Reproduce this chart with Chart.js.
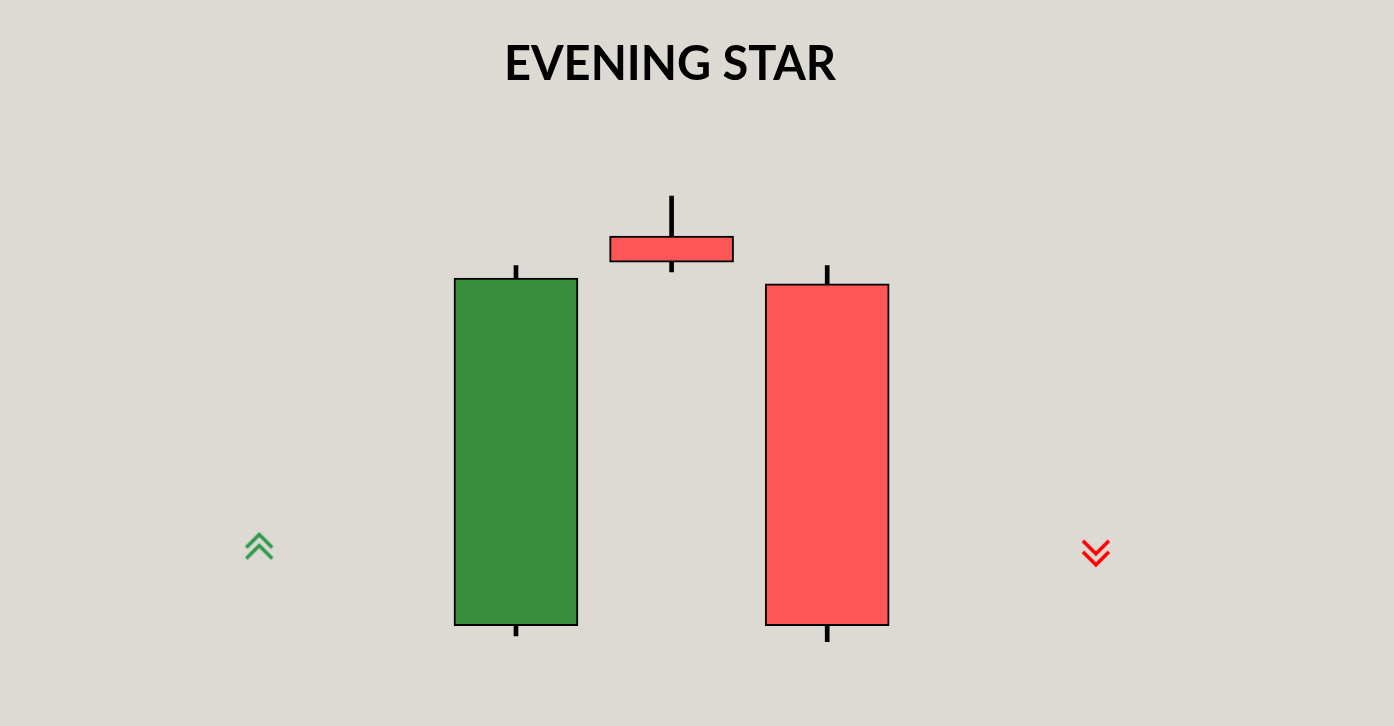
<!DOCTYPE html>
<html>
<head>
<meta charset="utf-8">
<script src="https://cdn.jsdelivr.net/npm/chart.js@4"></script>
<style>
  html, body { margin: 0; padding: 0; background: #dddad3; }
  #wrap { width: 1394px; height: 726px; }
</style>
</head>
<body>
<div id="wrap"><canvas id="myChart"></canvas></div>
<script>
const d = document;
const ctx = d.getElementById('myChart').getContext('2d');

// velas: posicion en el eje x y precios
const velasX = [1, 2, 3];
const apertura = [100, 212.1, 198.4];
const cierre = [200, 204.6, 100];
const maximo = [203.6, 223.6, 203.6];
const minimo = [97.1, 201.8, 95.4];

// flechas de tendencia
const flechaSubeX = [-0.65];
const flechaSubeY = [122.8];
const flechaBajaX = [4.727];
const flechaBajaY = [121.0];

const verde = '#3a8d3c';
const rojo = '#ff5757';

const cuerpos = velasX.map((x, i) => ({ x, y: [apertura[i], cierre[i]] }));
const mechas = velasX.map((x, i) => ({ x, y: [minimo[i], maximo[i]] }));
const coloresCuerpo = velasX.map((x, i) => cierre[i] >= apertura[i] ? verde : rojo);

// doble chevron dibujado en un canvas pequeño para usarlo como pointStyle
function flecha(color, haciaArriba) {
    const c = d.createElement('canvas');
    c.width = 32;
    c.height = 30;
    const g = c.getContext('2d');
    g.strokeStyle = color;
    g.lineWidth = 3.6;
    g.lineJoin = 'miter';
    g.lineCap = 'butt';
    [0, 11].forEach(off => {
        g.beginPath();
        if (haciaArriba) {
            g.moveTo(3, 16 + off);
            g.lineTo(16, 3 + off);
            g.lineTo(29, 16 + off);
        } else {
            g.moveTo(3, 3 + off);
            g.lineTo(16, 16 + off);
            g.lineTo(29, 3 + off);
        }
        g.stroke();
    });
    return c;
}

const myChart = new Chart(ctx, {
    type: 'bar',
    data: {
        datasets: [
            {
                type: 'scatter',
                data: flechaSubeX.map((x, i) => ({ x, y: flechaSubeY[i] })),
                pointStyle: flecha('#2e9a4a', true),
                order: 0
            },
            {
                type: 'scatter',
                data: flechaBajaX.map((x, i) => ({ x, y: flechaBajaY[i] })),
                pointStyle: flecha('#ff0000', false),
                order: 0
            },
            {
                label: 'cuerpos',
                data: cuerpos,
                backgroundColor: coloresCuerpo,
                borderColor: '#000000',
                borderWidth: 2,
                borderSkipped: false,
                barThickness: 124,
                grouped: false,
                order: 1
            },
            {
                label: 'mechas',
                data: mechas,
                backgroundColor: '#000000',
                borderWidth: 0,
                barThickness: 4,
                grouped: false,
                order: 2
            }
        ]
    },
    options: {
        responsive: true,
        maintainAspectRatio: false,
        animation: false,
        devicePixelRatio: 1,
        layout: { padding: { left: 0, right: 54, top: 0, bottom: 0 } },
        plugins: {
            legend: { display: false },
            tooltip: { enabled: false },
            title: {
                display: true,
                text: 'EVENING STAR',
                color: '#000000',
                font: { family: 'Lato', size: 47, weight: 'bold', lineHeight: 1.2 },
                padding: { top: 37, bottom: 20 }
            }
        },
        scales: {
            x: { type: 'linear', display: false, offset: false, min: -2.2836, max: 6.2954 },
            y: { display: false, min: 72.6, max: 247.4 }
        }
    }
});
</script>
</body>
</html>
